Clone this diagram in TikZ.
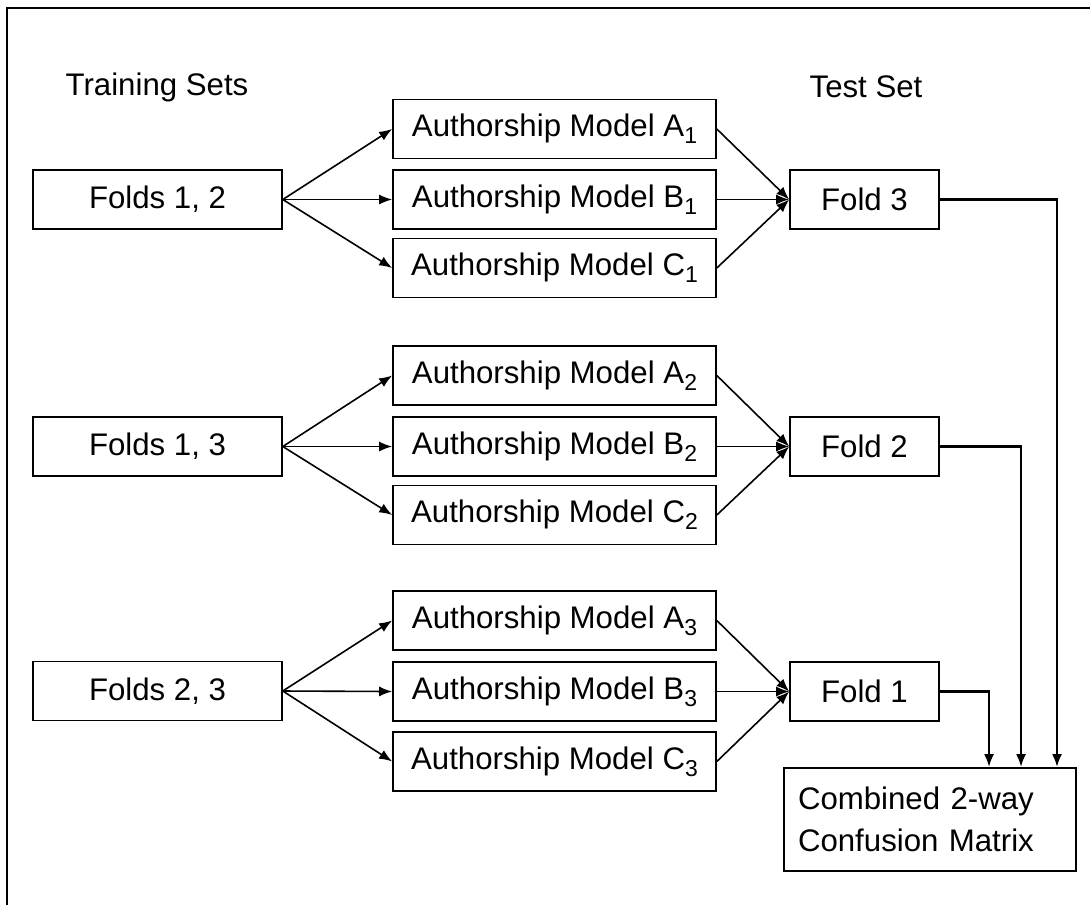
\documentclass[tikz,border=0pt]{standalone}
\usepackage{fontspec}
\setmainfont{Liberation Sans}
\usetikzlibrary{arrows.meta}
\newcommand\mysub[1]{\raisebox{-3.6pt}{\fontsize{11.5}{11.5}\selectfont #1}}
\begin{document}
\begin{tikzpicture}[x=0.5pt,y=-0.5pt,
  lbl/.style={font=\fontsize{15.6}{21}\selectfont},
  box/.style={draw, line width=0.8pt, minimum height=29.5pt, inner sep=0pt, lbl},
  trainbox/.style={box, minimum width=124.5pt},
  modelbox/.style={box, minimum width=161.5pt},
  foldbox/.style={box, minimum width=74.5pt},
  conn/.style={line width=0.8pt, -{Latex[length=6.5pt,width=5pt]}},
  outconn/.style={line width=1.3pt, -{Latex[length=6.5pt,width=5pt]}}]
\useasboundingbox (0,0) rectangle (1090,905);
\draw[line width=1pt] (1090,8) -- (7,8) -- (7,905);

\node[lbl] (tr) at (157,87) {Training Sets};
\node[lbl] (ts) at (866,87) {Test Set};

% group 1
\node[trainbox] (t1) at (157.5,199.5) {Folds 1, 2};
\node[modelbox] (a1) at (554.5,129) {Authorship Model A\mysub{1}};
\node[modelbox] (b1) at (554.5,199.5) {Authorship Model B\mysub{1}};
\node[modelbox] (c1) at (554.5,268) {Authorship Model C\mysub{1}};
\node[foldbox] (f3) at (864.5,199.5) {Fold 3};
% group 2
\node[trainbox] (t2) at (157.5,446.5) {Folds 1, 3};
\node[modelbox] (a2) at (554.5,375.5) {Authorship Model A\mysub{2}};
\node[modelbox] (b2) at (554.5,446.5) {Authorship Model B\mysub{2}};
\node[modelbox] (c2) at (554.5,515) {Authorship Model C\mysub{2}};
\node[foldbox] (f2) at (864.5,446.5) {Fold 2};
% group 3
\node[trainbox] (t3) at (157.5,691) {Folds 2, 3};
\node[modelbox] (a3) at (554.5,620.5) {Authorship Model A\mysub{3}};
\node[modelbox] (b3) at (554.5,691.5) {Authorship Model B\mysub{3}};
\node[modelbox] (c3) at (554.5,761.5) {Authorship Model C\mysub{3}};
\node[foldbox] (f1) at (864.5,691.5) {Fold 1};

\node[box, minimum width=146pt, minimum height=51.5pt, inner xsep=7pt,
      text width=132pt, align=left] (cm) at (930,819.5)
      {Combined 2-way\\Confusion Matrix};

\foreach \t/\a/\b/\c/\f in {t1/a1/b1/c1/f3, t2/a2/b2/c2/f2, t3/a3/b3/c3/f1}{
  \draw[conn] (\t.east) -- (\a.west);
  \draw[conn] (\t.east) -- (\b.west);
  \draw[conn] (\t.east) -- (\c.west);
  \draw[conn] (\a.east) -- (\f.west);
  \draw[conn] (\b.east) -- (\f.west);
  \draw[conn] (\c.east) -- (\f.west);
}

\coordinate (x1) at (989,0);
\coordinate (x2) at (1021,0);
\coordinate (x3) at (1057,0);
\draw[outconn] (f1.east) -| (x1 |- cm.north);
\draw[outconn] (f2.east) -| (x2 |- cm.north);
\draw[outconn] (f3.east) -| (x3 |- cm.north);
\end{tikzpicture}
\end{document}
